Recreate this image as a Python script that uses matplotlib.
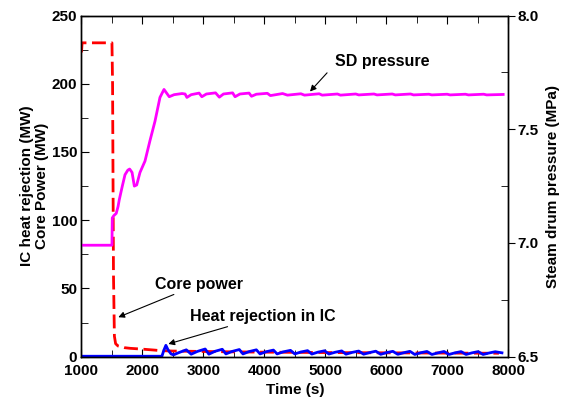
import matplotlib
matplotlib.use("Agg")
import matplotlib.pyplot as plt
from matplotlib.ticker import MultipleLocator

plt.rcParams['font.family'] = ['Liberation Sans', 'DejaVu Sans']
plt.rcParams['font.weight'] = 'bold'

# Core power (MW)
t_core = [1000, 1010, 1500, 1510, 1525, 1540, 1560, 1600, 1700, 1800, 2000, 2200, 2300,
          2500, 3000, 3500, 4000, 5000, 6000, 7000, 7850]
core = [223, 230, 230, 200, 60, 15, 9.5, 7.8, 6.6, 6.1, 5.5, 4.8, 4.4,
        4.1, 3.8, 3.5, 3.3, 3.0, 2.8, 2.6, 2.5]

# IC heat rejection (MW)
t_ic = [1000, 2320, 2350, 2385, 2420, 2470, 2510,
        2600, 2720, 2800, 2900, 3030, 3090, 3190, 3310, 3370, 3470, 3590, 3650,
        3750, 3870, 3930, 4030, 4150, 4210, 4310, 4430, 4500, 4600, 4710, 4780,
        4880, 4990, 5060, 5160, 5270, 5340, 5440, 5550, 5630, 5730, 5830, 5910,
        6010, 6110, 6190, 6290, 6390, 6470, 6570, 6670, 6750, 6850, 6950, 7030,
        7130, 7230, 7310, 7410, 7510, 7590, 7690, 7790, 7900]
ic = [0.3, 0.3, 4.5, 8.3, 5.0, 2.0, 1.3,
      3.0, 5.0, 1.8, 3.8, 5.6, 1.8, 3.9, 5.4, 2.0, 3.8, 5.2, 2.0,
      3.7, 5.0, 2.0, 3.6, 4.8, 2.0, 3.5, 4.6, 2.0, 3.4, 4.4, 1.9,
      3.3, 4.3, 1.9, 3.2, 4.2, 1.8, 3.1, 4.1, 1.8, 3.0, 4.0, 1.7,
      3.0, 3.9, 1.7, 2.9, 3.9, 1.6, 2.9, 3.8, 1.6, 2.8, 3.8, 1.6,
      2.8, 3.7, 1.6, 2.8, 3.7, 1.6, 2.7, 3.6, 2.8]

# Steam drum pressure (MPa)
t_sd = [1000, 1500, 1505, 1530, 1570, 1600, 1620, 1670, 1714, 1760, 1790, 1830,
        1867, 1906, 1960, 2042, 2124, 2206, 2288, 2354, 2440, 2520, 2650, 2700,
        2730, 2800, 2930, 2975, 3050, 3200, 3262, 3330, 3480, 3520, 3600, 3750,
        3790, 3870, 4050, 4100, 4300, 4380, 4600, 4660, 4900, 4950, 5200, 5250,
        5500, 5550, 5800, 5850, 6100, 6150, 6400, 6450, 6700, 6750, 7000, 7050,
        7300, 7350, 7600, 7650, 7920]
sd = [6.99, 6.99, 7.11, 7.12, 7.13, 7.16, 7.19, 7.25, 7.30, 7.32, 7.325, 7.31,
      7.25, 7.255, 7.31, 7.36, 7.45, 7.535, 7.64, 7.675, 7.643, 7.652, 7.657, 7.655,
      7.640, 7.652, 7.659, 7.643, 7.655, 7.660, 7.641, 7.655, 7.660, 7.643, 7.655, 7.659,
      7.645, 7.654, 7.658, 7.648, 7.657, 7.650, 7.656, 7.650, 7.656, 7.650, 7.655, 7.650,
      7.655, 7.651, 7.655, 7.651, 7.655, 7.651, 7.655, 7.651, 7.654, 7.651, 7.654, 7.651,
      7.654, 7.651, 7.654, 7.651, 7.653]

fig = plt.figure(figsize=(5.62, 4.09), dpi=100)
ax = fig.add_axes([0.145, 0.128, 0.759, 0.834])
ax2 = ax.twinx()

ax.plot(t_core, core, color='#ff0000', lw=2, dashes=(5, 2))
ax.plot(t_ic, ic, color='#0000ff', lw=2)
ax2.plot(t_sd, sd, color='#ff00ff', lw=2)

ax.set_xlim(1000, 8000)
ax.set_ylim(0, 250)
ax2.set_ylim(6.5, 8.0)

ax.xaxis.set_major_locator(MultipleLocator(1000))
ax.xaxis.set_minor_locator(MultipleLocator(500))
ax.yaxis.set_major_locator(MultipleLocator(50))
ax.yaxis.set_minor_locator(MultipleLocator(25))
ax2.yaxis.set_major_locator(MultipleLocator(0.5))
ax2.yaxis.set_minor_locator(MultipleLocator(0.25))
ax2.yaxis.set_major_formatter(matplotlib.ticker.FormatStrFormatter('%.1f'))

ax.tick_params(axis='x', which='both', direction='in', top=True, labelsize=11, pad=5)
ax.tick_params(axis='x', which='major', length=6)
ax.tick_params(axis='x', which='minor', length=5)
ax.tick_params(axis='y', which='both', direction='in', right=False, labelsize=11, pad=3)
ax.tick_params(axis='y', which='major', length=6)
ax.tick_params(axis='y', which='minor', length=5)
ax2.tick_params(axis='y', which='major', direction='out', length=5, labelsize=11, pad=2)
ax2.tick_params(axis='y', which='minor', direction='in', length=5)

for a in (ax, ax2):
    for s in a.spines.values():
        s.set_linewidth(1.0)

ax.set_xlabel('Time (s)', fontsize=11, fontweight='bold', labelpad=4)
ax.set_ylabel('IC heat rejection (MW)\nCore Power (MW)', fontsize=11, fontweight='bold',
              labelpad=2, linespacing=1.1)
ax2.set_ylabel('Steam drum pressure (MPa)', fontsize=11, fontweight='bold', labelpad=5)

ap = dict(arrowstyle='-|>', color='black', lw=0.8, mutation_scale=9, shrinkA=0, shrinkB=0)
ax.text(5163, 216, 'SD pressure', fontsize=11.5, fontweight='bold', ha='left', va='center')
ax.annotate('', xy=(4750, 194.3), xytext=(5030, 208.0), arrowprops=ap)
ax.annotate('Core power', xy=(1604, 28.9), xytext=(2206, 47.6), fontsize=11.5,
            fontweight='bold', ha='left', va='bottom', arrowprops=ap)
ax.annotate('Heat rejection in IC', xy=(2425, 9.3), xytext=(2780, 24), fontsize=11.5,
            fontweight='bold', ha='left', va='bottom', arrowprops=ap)

fig.savefig('out.png', dpi=100)
